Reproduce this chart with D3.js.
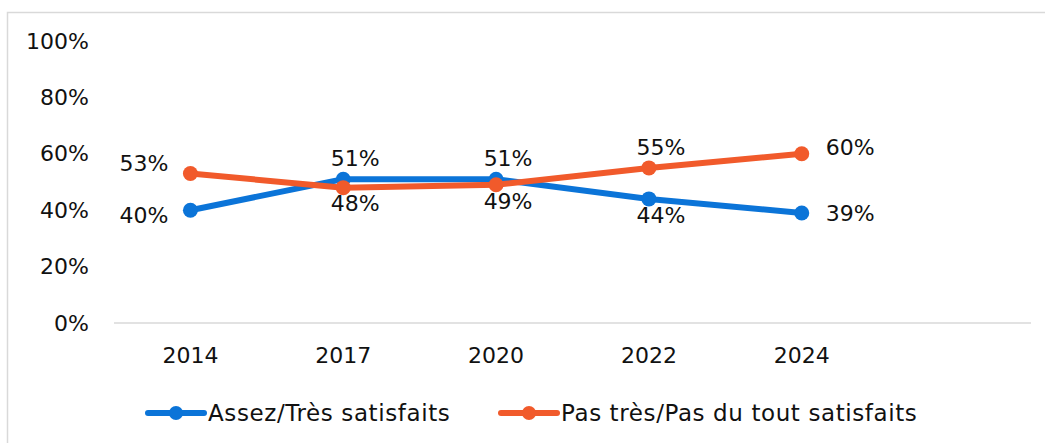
<!DOCTYPE html>
<html>
<head>
<meta charset="utf-8">
<script src="https://cdn.jsdelivr.net/npm/d3@7"></script>
<style>
  body { margin: 0; background: #fff; }
  svg text { font-family: "DejaVu Sans", "Noto Sans", sans-serif; fill: #111; }
</style>
</head>
<body>
<svg id="chart" width="1045" height="443"></svg>
<script>
// data
const years = ["2014", "2017", "2020", "2022", "2024", ""];
const satisfied = [0.40, 0.51, 0.51, 0.44, 0.39];
const unsatisfied = [0.53, 0.48, 0.49, 0.55, 0.60];
const yTicks = [0, 0.2, 0.4, 0.6, 0.8, 1.0];
const seriesNames = ["Assez/Très satisfaits", "Pas très/Pas du tout satisfaits"];
const seriesColors = ["#0B74D8", "#F15A2B"];
// where each data label sits relative to its point
const satisfiedLabelPos = ["left", "above", "above", "below", "right"];
const unsatisfiedLabelPos = ["left", "below", "below", "above", "right"];

const width = 1045, height = 443;
const margin = { top: 41, left: 114, bottom: 120, right: 14 };
const fontSize = "22px";
const svg = d3.select("#chart");

// chart border (only top/left visible in frame)
svg.append("rect")
  .attr("x", 7.5).attr("y", 12.5)
  .attr("width", 1100).attr("height", 500)
  .attr("fill", "none")
  .attr("stroke", "#d9d9d9")
  .attr("stroke-width", 1.5);

const x = d3.scaleBand()
  .domain(years.map((v, i) => i))
  .range([margin.left, width - margin.right]);
const y = d3.scaleLinear().domain([0, 1]).range([height - margin.bottom, margin.top]);
const cx = i => x(i) + x.bandwidth() / 2;

// x axis line
svg.append("line")
  .attr("x1", margin.left).attr("x2", width - margin.right)
  .attr("y1", y(0)).attr("y2", y(0))
  .attr("stroke", "#d9d9d9").attr("stroke-width", 1.5);

// y tick labels
const yAxis = d3.axisLeft(y).tickValues(yTicks).tickFormat(d3.format(".0%")).tickSize(0).tickPadding(0);
const yg = svg.append("g").attr("transform", "translate(89,0)").call(yAxis);
yg.select(".domain").remove();
yg.selectAll("text").attr("font-size", fontSize).attr("fill", "#111").style("font-family", "'DejaVu Sans', sans-serif");

// x tick labels
const xAxis = d3.axisBottom(x).tickFormat(i => years[i]).tickSize(0).tickPadding(24);
const xg = svg.append("g").attr("transform", `translate(0,${y(0)})`).call(xAxis);
xg.select(".domain").remove();
xg.selectAll("text").attr("font-size", fontSize).attr("fill", "#111").style("font-family", "'DejaVu Sans', sans-serif");

const line = d3.line().x((v, i) => cx(i)).y(v => y(v));

function drawSeries(values, color, positions) {
  svg.append("path")
    .attr("d", line(values))
    .attr("fill", "none")
    .attr("stroke", color)
    .attr("stroke-width", 6)
    .attr("stroke-linejoin", "round");
  svg.selectAll(null).data(values).join("circle")
    .attr("cx", (v, i) => cx(i))
    .attr("cy", v => y(v))
    .attr("r", 7.5)
    .attr("fill", color);
  svg.selectAll(null).data(values).join("text")
    .attr("x", (v, i) => {
      const p = positions[i];
      if (p === "left") return cx(i) - 22;
      if (p === "right") return cx(i) + 24;
      return cx(i) + 12;
    })
    .attr("y", (v, i) => {
      const p = positions[i];
      if (p === "above") return y(v) - 21;
      if (p === "below") return y(v) + 16;
      if (p === "left") return y(v) - 4 + (v < 0.45 ? 9 : -6);
      return y(v) - 4 + (v < 0.45 ? 4 : -3);
    })
    .attr("dy", "0.35em")
    .attr("text-anchor", (v, i) => positions[i] === "left" ? "end" : positions[i] === "right" ? "start" : "middle")
    .attr("font-size", fontSize)
    .text(v => d3.format(".0%")(v));
}

drawSeries(satisfied, seriesColors[0], satisfiedLabelPos);
drawSeries(unsatisfied, seriesColors[1], unsatisfiedLabelPos);

// legend
const legendX = [148, 501];
seriesNames.forEach((name, k) => {
  const g = svg.append("g").attr("transform", `translate(${legendX[k]},413)`);
  g.append("line").attr("x1", 0).attr("x2", 56).attr("y1", 0).attr("y2", 0)
    .attr("stroke", seriesColors[k]).attr("stroke-width", 6).attr("stroke-linecap", "round");
  g.append("circle").attr("cx", 28).attr("cy", 0).attr("r", 7).attr("fill", seriesColors[k]);
  g.append("text").attr("x", 60).attr("y", 0).attr("dy", "0.35em")
    .attr("font-size", "23px").attr("letter-spacing", "0.6px").text(name);
});
</script>
</body>
</html>
